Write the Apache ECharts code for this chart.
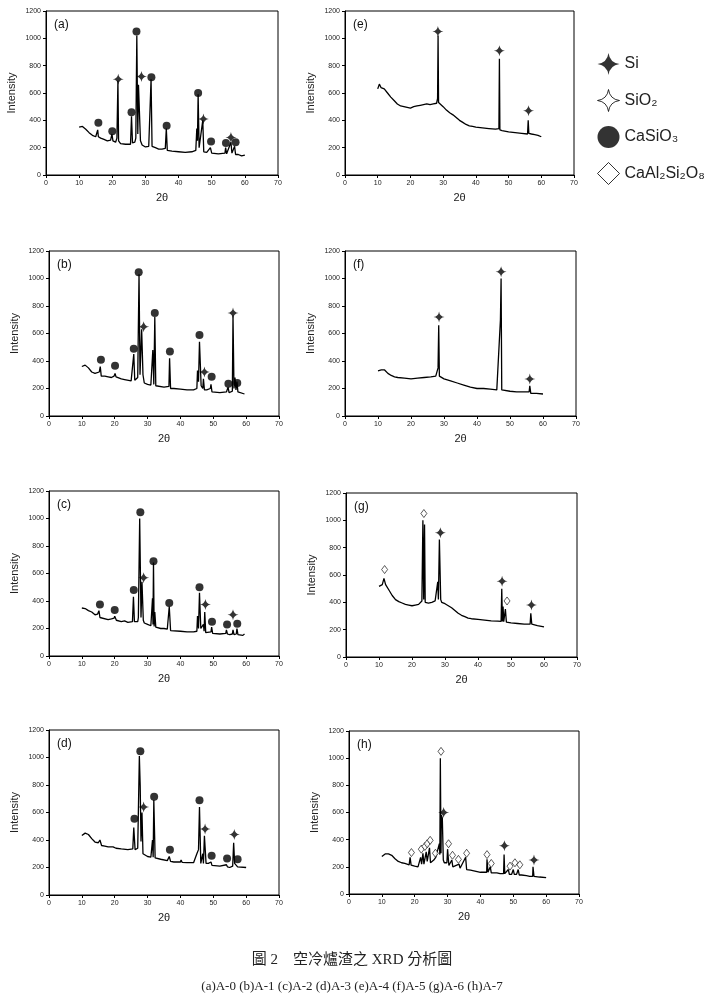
<!DOCTYPE html>
<html><head><meta charset="utf-8">
<script src="https://cdn.jsdelivr.net/npm/echarts@6/dist/echarts.min.js"></script>
<style>html,body{margin:0;padding:0;background:#fff}#c{width:704px;height:999px}</style>
</head><body><div id="c"></div>
<script>
// ---- data (2θ, intensity) ----
const panelLabels = ['(a)','(b)','(c)','(d)','(e)','(f)','(g)','(h)'];
const xTickValues = [0,10,20,30,40,50,60,70];
const yTickValues = [0,200,400,600,800,1000,1200];
const legendNames = ['Si','SiO₂','CaSiO₃','CaAl₂Si₂O₈'];
const captionTitle = '圖 2　空冷爐渣之 XRD 分析圖';
const captionSub = '(a)A-0 (b)A-1 (c)A-2 (d)A-3 (e)A-4 (f)A-5 (g)A-6 (h)A-7';

const specA = [[10,350],[11,355],[12,335],[13,310],[14,290],[15,280],[15.4,285],[15.6,330],[15.8,280],[16.5,270],[17.5,260],[18.5,250],[19.5,255],[19.9,300],[20.2,250],[21,240],[21.4,270],[21.7,690],[21.9,250],[22.5,230],[24,225],[25.5,225],[25.8,430],[26.1,235],[26.8,240],[27.1,270],[27.4,1020],[27.7,300],[27.9,660],[28.3,660],[28.5,250],[29,220],[30,205],[31,210],[31.5,220],[31.7,700],[32,210],[33,200],[34,190],[35,190],[36,195],[36.3,340],[36.6,180],[38,175],[40,170],[42,165],[44,170],[45.2,180],[45.5,340],[45.7,250],[45.9,590],[46.2,200],[46.8,190],[47.3,400],[47.6,170],[48.5,165],[49.6,200],[50,160],[52,155],[54,160],[54.2,200],[54.5,155],[55.8,240],[56.1,160],[56.9,210],[57.2,150],[58,150],[59,140],[60,145]];
const specB = [[10,360],[11,370],[12,350],[13,320],[14,310],[15.3,320],[15.6,360],[15.9,290],[17,290],[18,285],[19,280],[19.8,290],[20.1,310],[20.4,285],[21,290],[22,270],[23,265],[25,255],[25.5,260],[25.8,450],[26.1,260],[27,280],[27.4,1030],[27.7,300],[28.2,630],[28.6,300],[29,240],[30,230],[31,225],[31.6,480],[31.9,230],[32.2,720],[32.5,220],[33,220],[35,210],[36.5,215],[36.7,420],[37,200],[38,200],[40,195],[42,190],[44,190],[45,200],[45.2,330],[45.5,250],[45.8,540],[46.3,220],[46.8,200],[47,270],[47.3,190],[48,190],[49.1,200],[49.3,230],[49.6,175],[50,175],[52,170],[54,175],[54.5,210],[54.8,170],[55.8,180],[56,730],[56.3,200],[56.6,280],[56.9,190],[57.2,250],[57.5,175],[58,165],[59.5,160]];
const specC = [[10,349],[11,345],[12,330],[13,320],[14,300],[14.8,305],[15.2,330],[15.5,280],[16,280],[18,265],[19,270],[19.8,275],[20,290],[20.5,260],[22,250],[23,255],[24,245],[25.4,250],[25.7,430],[26,250],[27,250],[27.2,280],[27.6,1000],[28,280],[28.3,540],[28.7,260],[29,240],[30,230],[31,220],[31.5,420],[31.65,230],[31.8,680],[32,215],[32.2,320],[32.5,210],[33,210],[34,200],[35,200],[36,195],[36.6,360],[37,185],[40,180],[42,175],[44,175],[45,180],[45.2,290],[45.5,200],[45.8,460],[46.2,200],[47,230],[47.2,180],[47.4,320],[47.7,170],[48,170],[49.3,175],[49.5,210],[49.8,165],[50,165],[52,160],[53.8,165],[54,190],[54.3,160],[55,155],[55.8,160],[56,190],[56.3,155],[57,160],[57.2,200],[57.5,155],[58,155],[59,150],[59.5,160]];
const specD = [[10,433],[11,450],[12,440],[13,410],[14,385],[15,380],[15.5,400],[16,360],[17,355],[18,350],[19.5,350],[20,360],[20.4,340],[21,340],[22,335],[24,330],[25.5,335],[25.8,490],[26.2,330],[27,340],[27.5,1010],[27.75,800],[28,390],[28.3,600],[28.6,300],[29,290],[30,280],[31,275],[31.5,400],[31.7,275],[31.9,690],[32.3,270],[34,260],[36,250],[36.6,280],[37,245],[38,240],[40,240],[40.2,255],[40.5,238],[42,235],[44,235],[45,300],[45.5,330],[45.8,640],[46.2,230],[46.8,300],[47,230],[47.3,430],[47.8,230],[48.5,230],[49.3,240],[49.6,215],[50,210],[52,210],[54,220],[54.3,205],[55,200],[55.9,210],[56.2,380],[56.5,230],[57,240],[57.4,205],[58,200],[60,200]];
const specE = [[10,630],[10.5,665],[11,640],[12,630],[13,600],[14,570],[15,545],[16,520],[17,505],[18,500],[19,495],[20,490],[21,500],[22,505],[23,510],[24,515],[25,520],[26,515],[27,520],[28,525],[28.3,560],[28.45,1020],[28.6,530],[29,520],[30,500],[31,475],[32,455],[33,440],[34,420],[35,400],[36,385],[37,370],[38,360],[39,355],[40,350],[42,345],[44,340],[46,335],[47.05,340],[47.2,850],[47.35,330],[48,325],[50,315],[52,310],[54,305],[55.8,300],[56,400],[56.2,305],[57,300],[58,295],[59,290],[60,280]];
const specF = [[10,328],[11,335],[11.5,340],[12,335],[13,310],[14,295],[15,285],[16,280],[18,275],[20,270],[22,275],[24,280],[26,285],[27.5,290],[28.2,350],[28.4,660],[28.6,290],[29,280],[30,270],[32,255],[34,240],[36,225],[38,210],[40,200],[42,200],[44,195],[46,190],[47.1,700],[47.3,1000],[47.5,190],[48,185],[50,180],[52,175],[54,175],[55.8,175],[56,220],[56.3,165],[58,165],[60,160]];
const specG = [[10,517],[11,530],[11.5,575],[12,530],[13,490],[14,450],[15,420],[16,405],[17,395],[18,385],[19,380],[20,375],[21,380],[22,385],[23,410],[23.3,1000],[23.55,420],[23.8,970],[24,400],[25,395],[26,400],[27,410],[27.8,550],[28.0,420],[28.3,860],[28.7,420],[29,400],[30,390],[31,375],[32,360],[33,340],[34,320],[35,305],[36,295],[37,285],[38,280],[40,275],[42,270],[44,265],[46,262],[47,260],[47.2,500],[47.4,260],[47.6,370],[47.8,258],[48.3,350],[48.6,255],[50,250],[52,245],[54,240],[55.8,240],[56,320],[56.3,240],[58,230],[60,220]];
const specH = [[10,276],[11,295],[12,295],[13,285],[14,260],[15,240],[16,230],[17,225],[18.3,215],[18.6,270],[18.9,212],[19,210],[20,205],[21,200],[21.6,205],[21.8,270],[22.1,220],[22.5,300],[22.8,220],[23.2,225],[23.5,310],[23.8,240],[24.5,340],[24.8,230],[25.8,250],[26.4,270],[26.7,260],[27,280],[27.5,370],[27.65,290],[27.8,1000],[28.0,300],[28.1,580],[28.4,560],[28.7,250],[29,230],[29.8,230],[30,330],[30.4,210],[30.6,210],[31.3,250],[31.6,200],[32,200],[33.5,220],[33.8,190],[34,190],[35.5,270],[35.8,180],[36,180],[37,175],[38,170],[40,160],[41,160],[41.9,160],[42,255],[42.3,160],[42.5,160],[43,200],[43.3,155],[44,155],[45,155],[46,150],[47.05,150],[47.2,290],[47.4,150],[47.5,150],[48.5,180],[48.8,145],[49.5,145],[50,180],[50.3,145],[51,145],[51.5,180],[51.8,140],[52.5,140],[54,135],[55,130],[55.9,130],[56,200],[56.3,130],[56.5,130],[58,125],[60,120]];

// peak markers per panel: Si, CaSiO3, CaAl2Si2O8
const siMarks = [
  [[21.8,700],[28.8,720],[47.5,410],[55.8,275]],
  [[28.8,650],[47.3,320],[56,750]],
  [[28.8,570],[47.6,375],[56,300]],
  [[28.8,640],[47.5,480],[56.4,440]],
  [[28.4,1050],[47.2,910],[56.1,470]],
  [[28.5,720],[47.3,1050],[56,270]],
  [[28.6,910],[47.3,555],[56.2,380]],
  [[28.8,600],[47.3,355],[56.3,250]]
];
const casio3Marks = [
  [[15.8,382],[20,320],[25.8,460],[27.3,1050],[31.8,715],[36.4,360],[45.9,600],[49.8,245],[54.3,235],[57.2,240]],
  [[15.8,410],[20.1,365],[25.8,490],[27.3,1045],[32.2,750],[36.8,470],[45.8,590],[49.5,285],[54.6,235],[57.3,240]],
  [[15.5,375],[20,335],[25.8,480],[27.8,1045],[31.8,690],[36.6,385],[45.8,500],[49.6,250],[54.2,230],[57.3,235]],
  [[26,555],[27.8,1045],[32,715],[36.8,330],[45.8,690],[49.5,285],[54.2,265],[57.4,260]],
  [],[],[],[]
];
const anorthiteMarks = [
  [],[],[],[],[],[],
  [[11.7,640],[23.6,1050],[48.8,410]],
  [[19,305],[22,330],[23.1,350],[23.8,370],[24.7,395],[26.3,300],[28,1050],[30.3,370],[31.5,285],[33.3,255],[35.8,300],[42,290],[43.3,225],[49,205],[50.5,230],[52,215]]
];
const spectra = [specA,specB,specC,specD,specE,specF,specG,specH];

// ---- layout ----
const grids = [
  {left:46, top:11, width:232, height:164},
  {left:49, top:251, width:230, height:165},
  {left:49, top:491, width:230, height:165},
  {left:49, top:730, width:230, height:165},
  {left:345, top:11, width:229, height:164},
  {left:345, top:251, width:231, height:165},
  {left:346, top:493, width:231, height:164},
  {left:349, top:731, width:230, height:163}
];
const starPath = 'path://M0,-10 Q1.2,-1.2 10,0 Q1.2,1.2 0,10 Q-1.2,1.2 -10,0 Q-1.2,-1.2 0,-10 Z';
const font = 'Liberation Sans, Arial, sans-serif';

const xAxes = [], yAxes = [], series = [], titles = [];
grids.forEach((g,i)=>{
  xAxes.push({gridIndex:i, type:'value', min:0, max:70, interval:10,
    axisLine:{onZero:false, lineStyle:{color:'#000', width:1}},
    axisTick:{length:3, lineStyle:{color:'#000'}},
    axisLabel:{fontSize:7, color:'#222', margin:5, fontFamily:font, formatter:v=>String(v)},
    splitLine:{show:false},
    name:'2θ', nameLocation:'middle', nameGap:17,
    nameTextStyle:{fontSize:11, color:'#222', fontFamily:font}});
  yAxes.push({gridIndex:i, type:'value', min:0, max:1200, interval:200,
    axisLine:{show:true, onZero:false, lineStyle:{color:'#000', width:1}},
    axisTick:{show:true, length:3, lineStyle:{color:'#000'}},
    axisLabel:{fontSize:7, color:'#222', margin:5, fontFamily:font, formatter:v=>String(v)},
    splitLine:{show:false},
    name:'Intensity', nameLocation:'middle', nameGap:29, nameRotate:90,
    nameTextStyle:{fontSize:11, color:'#222', fontFamily:font}});
  series.push({type:'line', xAxisIndex:i, yAxisIndex:i, data:spectra[i], showSymbol:false, symbol:'none',
    lineStyle:{color:'#000', width:1.3}, silent:true, z:2});
  if (siMarks[i].length) series.push({name:'Si', type:'scatter', xAxisIndex:i, yAxisIndex:i, data:siMarks[i],
    symbol:starPath, symbolSize:11, itemStyle:{color:'#000'}, z:3});
  if (casio3Marks[i].length) series.push({name:'CaSiO₃', type:'scatter', xAxisIndex:i, yAxisIndex:i, data:casio3Marks[i],
    symbol:'circle', symbolSize:8, itemStyle:{color:'#000'}, z:3});
  if (anorthiteMarks[i].length) series.push({name:'CaAl₂Si₂O₈', type:'scatter', xAxisIndex:i, yAxisIndex:i, data:anorthiteMarks[i],
    symbol:'diamond', symbolSize:[6,8], itemStyle:{color:'#fff', borderColor:'#000', borderWidth:0.8}, z:3});
  titles.push({text:panelLabels[i], left:g.left+3, top:g.top+3,
    textStyle:{fontSize:12, fontWeight:'normal', color:'#111', fontFamily:font}});
});
series.push({name:'SiO₂', type:'scatter', xAxisIndex:0, yAxisIndex:0, data:[], symbol:starPath,
  itemStyle:{color:'#fff', borderColor:'#000', borderWidth:1}});

titles.push({text:captionTitle, left:'center', top:948,
  textStyle:{fontSize:15, fontWeight:'normal', color:'#222', fontFamily:'Liberation Serif, Noto Sans CJK TC, serif'}});
titles.push({text:captionSub, left:'center', top:975,
  textStyle:{fontSize:13, fontWeight:'normal', color:'#222', fontFamily:'Liberation Serif, Times New Roman, serif'}});

const chart = echarts.init(document.getElementById('c'), null, {renderer:'canvas'});
chart.setOption({
  animation:false,
  backgroundColor:'#fff',
  title:titles,
  grid:grids.map(g=>Object.assign({show:true, borderColor:'#000', borderWidth:1, backgroundColor:'transparent'}, g)),
  xAxis:xAxes, yAxis:yAxes,
  legend:{orient:'vertical', left:592, top:48, itemWidth:22, itemHeight:22, itemGap:14, selectedMode:false,
    textStyle:{fontSize:16, color:'#222', fontFamily:font},
    data:[
      {name:legendNames[0], icon:starPath, itemStyle:{color:'#000'}},
      {name:legendNames[1], icon:starPath, itemStyle:{color:'#fff', borderColor:'#000', borderWidth:1}},
      {name:legendNames[2], icon:'circle', itemStyle:{color:'#000'}},
      {name:legendNames[3], icon:'diamond', itemStyle:{color:'#fff', borderColor:'#000', borderWidth:1}}
    ]},
  series:series
});
</script></body></html>
